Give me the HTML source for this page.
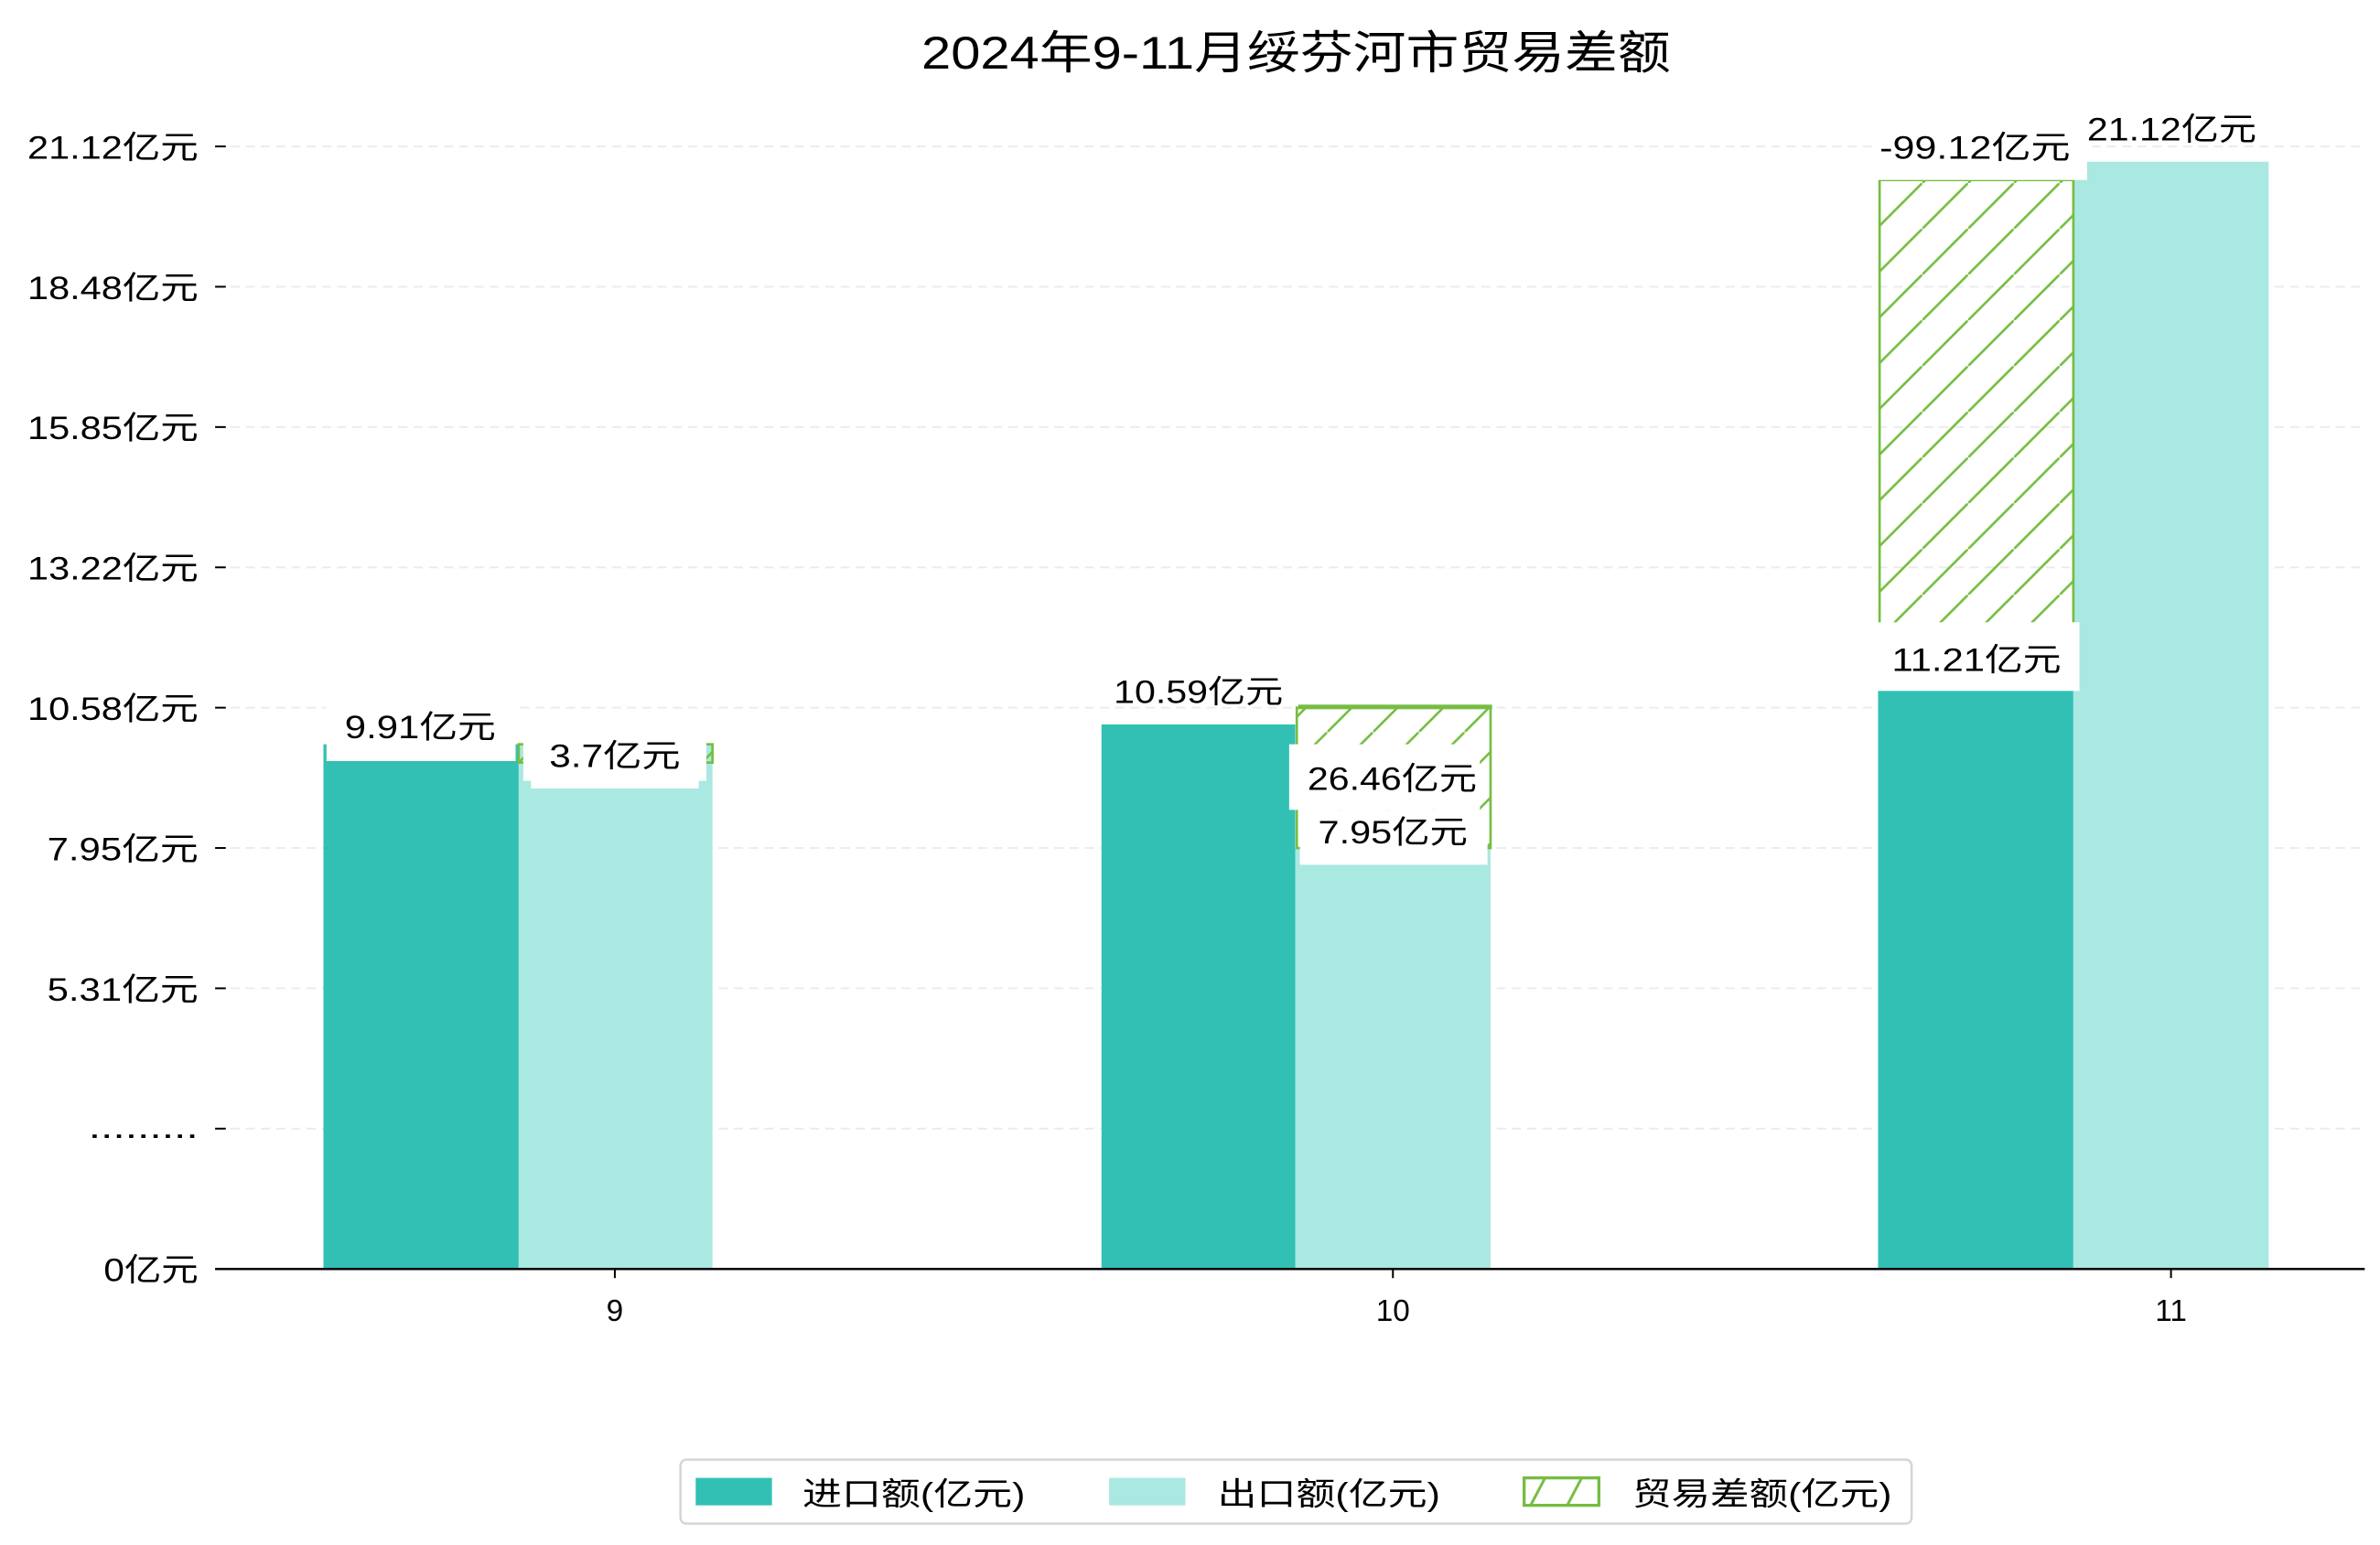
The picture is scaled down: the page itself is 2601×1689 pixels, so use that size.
<!DOCTYPE html>
<html><head><meta charset="utf-8"><style>html,body{margin:0;padding:0;background:#fff}svg{display:block}text{font-family:"Liberation Sans","Noto Sans CJK SC",sans-serif;fill:#000}</style></head>
<body>
<svg width="2601" height="1689" viewBox="0 0 1560 1013" preserveAspectRatio="none" xmlns="http://www.w3.org/2000/svg">
<defs>
<pattern id="h" patternUnits="userSpaceOnUse" width="30" height="30">
<line x1="-1" y1="31" x2="31" y2="-1" stroke="#76bd43" stroke-width="1.6"/>
</pattern>
<pattern id="h2" patternUnits="userSpaceOnUse" width="24" height="18" x="999" y="969">
<line x1="4" y1="18.5" x2="14" y2="-0.5" stroke="#76bd43" stroke-width="1.8"/>
</pattern>
</defs>
<text x="604" y="45" font-size="30" textLength="491" lengthAdjust="spacingAndGlyphs">2024年9-11月绥芬河市贸易差额</text>
<!-- grid -->
<g stroke="#ececec" stroke-width="1.2" stroke-dasharray="6,4">
<line x1="141" x2="1550" y1="96" y2="96"/><line x1="141" x2="1550" y1="188" y2="188"/>
<line x1="141" x2="1550" y1="280" y2="280"/><line x1="141" x2="1550" y1="372" y2="372"/>
<line x1="141" x2="1550" y1="464" y2="464"/><line x1="141" x2="1550" y1="556" y2="556"/>
<line x1="141" x2="1550" y1="648" y2="648"/><line x1="141" x2="1550" y1="740" y2="740"/>
</g>
<g stroke="#000" stroke-width="1.2">
<line x1="141" x2="148" y1="96" y2="96"/><line x1="141" x2="148" y1="188" y2="188"/>
<line x1="141" x2="148" y1="280" y2="280"/><line x1="141" x2="148" y1="372" y2="372"/>
<line x1="141" x2="148" y1="464" y2="464"/><line x1="141" x2="148" y1="556" y2="556"/>
<line x1="141" x2="148" y1="648" y2="648"/><line x1="141" x2="148" y1="740" y2="740"/>
<line x1="403" x2="403" y1="832" y2="838"/><line x1="913" x2="913" y1="832" y2="838"/><line x1="1423" x2="1423" y1="832" y2="838"/>
</g>
<g font-size="21" lengthAdjust="spacingAndGlyphs">
<text x="18" y="104" textLength="112" lengthAdjust="spacingAndGlyphs">21.12亿元</text>
<text x="18" y="196" textLength="112" lengthAdjust="spacingAndGlyphs">18.48亿元</text>
<text x="18" y="288" textLength="112" lengthAdjust="spacingAndGlyphs">15.85亿元</text>
<text x="18" y="380" textLength="112" lengthAdjust="spacingAndGlyphs">13.22亿元</text>
<text x="18" y="472" textLength="112" lengthAdjust="spacingAndGlyphs">10.58亿元</text>
<text x="31" y="564" textLength="99" lengthAdjust="spacingAndGlyphs">7.95亿元</text>
<text x="31" y="656" textLength="99" lengthAdjust="spacingAndGlyphs">5.31亿元</text>
<text x="58" y="746" textLength="72" lengthAdjust="spacingAndGlyphs">.........</text>
<text x="68" y="840" textLength="62" lengthAdjust="spacingAndGlyphs">0亿元</text>
</g>
<g font-size="20" text-anchor="middle">
<text x="403" y="866">9</text><text x="913" y="866">10</text><text x="1423" y="866">11</text>
</g>
<!-- month 9 -->
<rect x="212" y="488" width="128" height="344" fill="#32c0b4"/>
<rect x="340" y="488" width="127" height="344" fill="#aae8e2"/>
<rect x="340" y="488" width="127" height="12" fill="url(#h)" stroke="#76bd43" stroke-width="1.6"/>
<rect x="214" y="460" width="124" height="39" fill="#fff"/>
<rect x="343" y="478" width="120" height="34" fill="#fff"/>
<rect x="348" y="505" width="110" height="12" fill="#fff"/>
<text x="226" y="484" font-size="21" textLength="99" lengthAdjust="spacingAndGlyphs">9.91亿元</text>
<text x="360" y="503" font-size="21" textLength="86" lengthAdjust="spacingAndGlyphs">3.7亿元</text>
<!-- month 10 -->
<rect x="722" y="475" width="127" height="357" fill="#32c0b4"/>
<rect x="849" y="556" width="128" height="276" fill="#aae8e2"/>
<rect x="850" y="464" width="127" height="92" fill="url(#h)" stroke="#76bd43" stroke-width="1.6"/>
<rect x="851" y="462" width="127" height="3" fill="#76bd43"/>
<text x="730" y="461" font-size="21" textLength="111" lengthAdjust="spacingAndGlyphs">10.59亿元</text>
<rect x="845" y="488" width="125" height="43" fill="#fff"/>
<rect x="852" y="531" width="123" height="36" fill="#fff"/>
<text x="857" y="518" font-size="21" textLength="111" lengthAdjust="spacingAndGlyphs">26.46亿元</text>
<text x="864" y="553" font-size="21" textLength="98" lengthAdjust="spacingAndGlyphs">7.95亿元</text>
<!-- month 11 -->
<rect x="1231" y="440" width="128" height="392" fill="#32c0b4"/>
<rect x="1359" y="106" width="128" height="726" fill="#aae8e2"/>
<rect x="1232" y="118" width="127" height="322" fill="url(#h)" stroke="#76bd43" stroke-width="1.6"/>
<rect x="1227" y="408" width="136" height="45" fill="#fff"/>
<rect x="1228" y="78" width="140" height="40" fill="#fff"/>
<text x="1240" y="440" font-size="21" textLength="111" lengthAdjust="spacingAndGlyphs">11.21亿元</text>
<text x="1232" y="104" font-size="21" textLength="125" lengthAdjust="spacingAndGlyphs">-99.12亿元</text>
<text x="1368" y="92" font-size="21" textLength="111" lengthAdjust="spacingAndGlyphs">21.12亿元</text>
<!-- axis -->
<line x1="141" x2="1550" y1="832" y2="832" stroke="#000" stroke-width="1.5"/>
<!-- legend -->
<rect x="446" y="957" width="807" height="42" rx="4" fill="#fff" stroke="#d5d5d5" stroke-width="1.5"/>
<rect x="456" y="969" width="50" height="18" fill="#32c0b4"/>
<rect x="727" y="969" width="50" height="18" fill="#aae8e2"/>
<rect x="999" y="969" width="49" height="18" fill="url(#h2)" stroke="#76bd43" stroke-width="2"/>
<g font-size="21">
<text x="526" y="987" textLength="146" lengthAdjust="spacingAndGlyphs">进口额(亿元)</text>
<text x="798" y="987" textLength="146" lengthAdjust="spacingAndGlyphs">出口额(亿元)</text>
<text x="1070" y="987" textLength="170" lengthAdjust="spacingAndGlyphs">贸易差额(亿元)</text>
</g>
</svg>
</body></html>
